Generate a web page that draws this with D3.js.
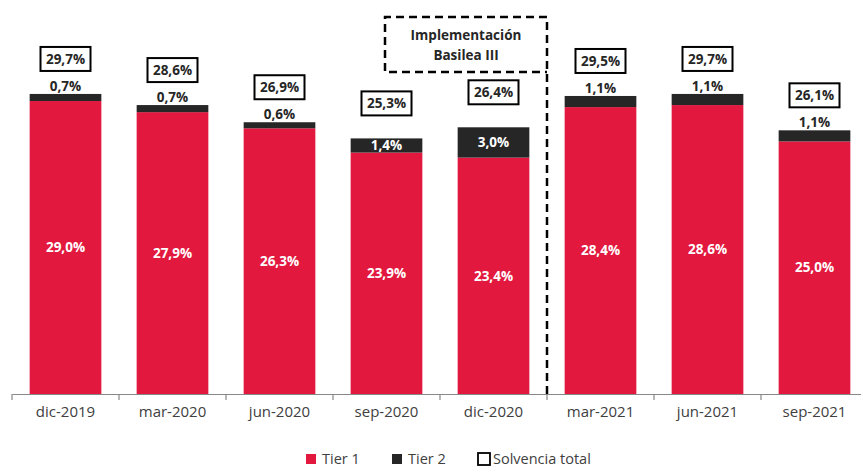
<!DOCTYPE html>
<html>
<head>
<meta charset="utf-8">
<script src="https://cdn.jsdelivr.net/npm/d3@7"></script>
<style>
  body { margin: 0; background: #fff; }
  svg { font-family: "Open Sans", Lato, sans-serif; }
</style>
</head>
<body>
<svg id="chart" width="861" height="468"></svg>
<script>
// chart data
const categories = ["dic-2019", "mar-2020", "jun-2020", "sep-2020", "dic-2020", "mar-2021", "jun-2021", "sep-2021"];
const tier1 = [29.0, 27.9, 26.3, 23.9, 23.4, 28.4, 28.6, 25.0];
const tier2 = [0.7, 0.7, 0.6, 1.4, 3.0, 1.1, 1.1, 1.1];
const totals = [29.7, 28.6, 26.9, 25.3, 26.4, 29.5, 29.7, 26.1];
const legendItems = ["Tier 1", "Tier 2", "Solvencia total"];
const noteLines = ["Implementación", "Basilea III"];
const noteAfter = "dic-2020"; // dashed line sits after this category

const red = "#e2183f", dark = "#262626";
const fmt = v => v.toFixed(1).replace(".", ",") + "%";

const svg = d3.select("#chart");
const axisY = 394;

const x = d3.scaleBand()
  .domain(categories)
  .range([12, 12 + 107 * categories.length])
  .paddingInner(0.33)
  .paddingOuter(0.165);

const y = d3.scaleLinear().domain([0, 39]).range([axisY, 0]);

const data = categories.map((c, i) => ({ cat: c, t1: tier1[i], t2: tier2[i], tot: totals[i] }));

// tier 1 bars
svg.selectAll(".bar-t1")
  .data(data)
  .join("rect")
  .attr("class", "bar-t1")
  .attr("x", d => x(d.cat))
  .attr("width", x.bandwidth())
  .attr("y", d => y(d.t1))
  .attr("height", d => y(0) - y(d.t1))
  .attr("fill", red);

// tier 2 bars
svg.selectAll(".bar-t2")
  .data(data)
  .join("rect")
  .attr("class", "bar-t2")
  .attr("x", d => x(d.cat))
  .attr("width", x.bandwidth())
  .attr("y", d => y(d.t1 + d.t2))
  .attr("height", d => y(d.t1) - y(d.t1 + d.t2))
  .attr("fill", dark);

// tier 1 labels
svg.selectAll(".lbl-t1")
  .data(data)
  .join("text")
  .attr("class", "lbl-t1")
  .attr("x", d => x(d.cat) + x.bandwidth() / 2)
  .attr("y", d => (y(d.t1) + y(0)) / 2)
  .attr("dy", "0.35em")
  .attr("text-anchor", "middle")
  .attr("fill", "#fff")
  .attr("font-weight", "bold")
  .attr("font-size", 13.5)
  .text(d => fmt(d.t1));

// tier 2 labels: inside when the segment is tall enough, else above
svg.selectAll(".lbl-t2")
  .data(data)
  .join("text")
  .attr("class", "lbl-t2")
  .attr("x", d => x(d.cat) + x.bandwidth() / 2)
  .attr("y", d => d.t2 >= 1.4 ? (y(d.t1) + y(d.t1 + d.t2)) / 2 : y(d.t1 + d.t2) - 8)
  .attr("dy", "0.35em")
  .attr("text-anchor", "middle")
  .attr("fill", d => d.t2 >= 1.4 ? "#fff" : dark)
  .attr("font-weight", "bold")
  .attr("font-size", 13.5)
  .text(d => fmt(d.t2));

// total boxes
const tot = svg.selectAll(".tot")
  .data(data)
  .join("g")
  .attr("class", "tot")
  .attr("transform", d => `translate(${x(d.cat) + x.bandwidth() / 2},${y(d.t1 + d.t2) - 35})`);

tot.append("rect")
  .attr("x", -25).attr("y", -12)
  .attr("width", 50).attr("height", 24)
  .attr("fill", "#fff")
  .attr("stroke", "#000")
  .attr("stroke-width", 2);

tot.append("text")
  .attr("text-anchor", "middle")
  .attr("dy", "0.35em")
  .attr("font-weight", "bold")
  .attr("font-size", 13.5)
  .attr("fill", dark)
  .text(d => fmt(d.tot));

// x axis
const xAxis = svg.append("g")
  .attr("transform", `translate(0,${axisY})`)
  .call(d3.axisBottom(x).tickSize(0).tickPadding(12));
xAxis.select(".domain").attr("stroke", "#888").attr("stroke-width", 1.2);
xAxis.selectAll("text").attr("font-size", 15).attr("fill", "#404040")
  .attr("font-family", "'Open Sans', Lato, sans-serif");

// tick marks on band boundaries
svg.selectAll(".bnd")
  .data(d3.range(categories.length + 1))
  .join("line")
  .attr("class", "bnd")
  .attr("x1", i => x.range()[0] + i * x.step())
  .attr("x2", i => x.range()[0] + i * x.step())
  .attr("y1", axisY).attr("y2", axisY + 6)
  .attr("stroke", "#888").attr("stroke-width", 1.2);

// dashed note box and separator
const sepX = x(noteAfter) + x.bandwidth() + x.step() * x.paddingInner() / 2;
svg.append("path")
  .attr("d", `M${sepX},${axisY} L${sepX},17 L385,17 L385,72 L${sepX},72`)
  .attr("fill", "none")
  .attr("stroke", "#000")
  .attr("stroke-width", 2.5)
  .attr("stroke-dasharray", "8,5");

svg.selectAll(".note")
  .data(noteLines)
  .join("text")
  .attr("class", "note")
  .attr("x", (385 + sepX) / 2)
  .attr("y", (d, i) => 35 + i * 20)
  .attr("dy", "0.35em")
  .attr("text-anchor", "middle")
  .attr("font-weight", "bold")
  .attr("font-size", 13.5)
  .attr("fill", dark)
  .text(d => d);

// legend
const legX = [305, 391, 478];
const leg = svg.selectAll(".legend")
  .data(legendItems)
  .join("g")
  .attr("class", "legend")
  .attr("transform", (d, i) => `translate(${legX[i]},459)`);

leg.append("rect")
  .attr("x", (d, i) => i === 2 ? 0 : 1)
  .attr("y", (d, i) => i === 2 ? -6 : -5)
  .attr("width", (d, i) => i === 2 ? 12 : 10)
  .attr("height", (d, i) => i === 2 ? 12 : 10)
  .attr("fill", (d, i) => i === 0 ? red : i === 1 ? dark : "#fff")
  .attr("stroke", (d, i) => i === 2 ? "#000" : "none")
  .attr("stroke-width", 1.8);

leg.append("text")
  .attr("x", (d, i) => i === 2 ? 15 : 17)
  .attr("dy", "0.35em")
  .attr("font-size", 14.5)
  .attr("fill", "#404040")
  .text(d => d);
</script>
</body>
</html>
